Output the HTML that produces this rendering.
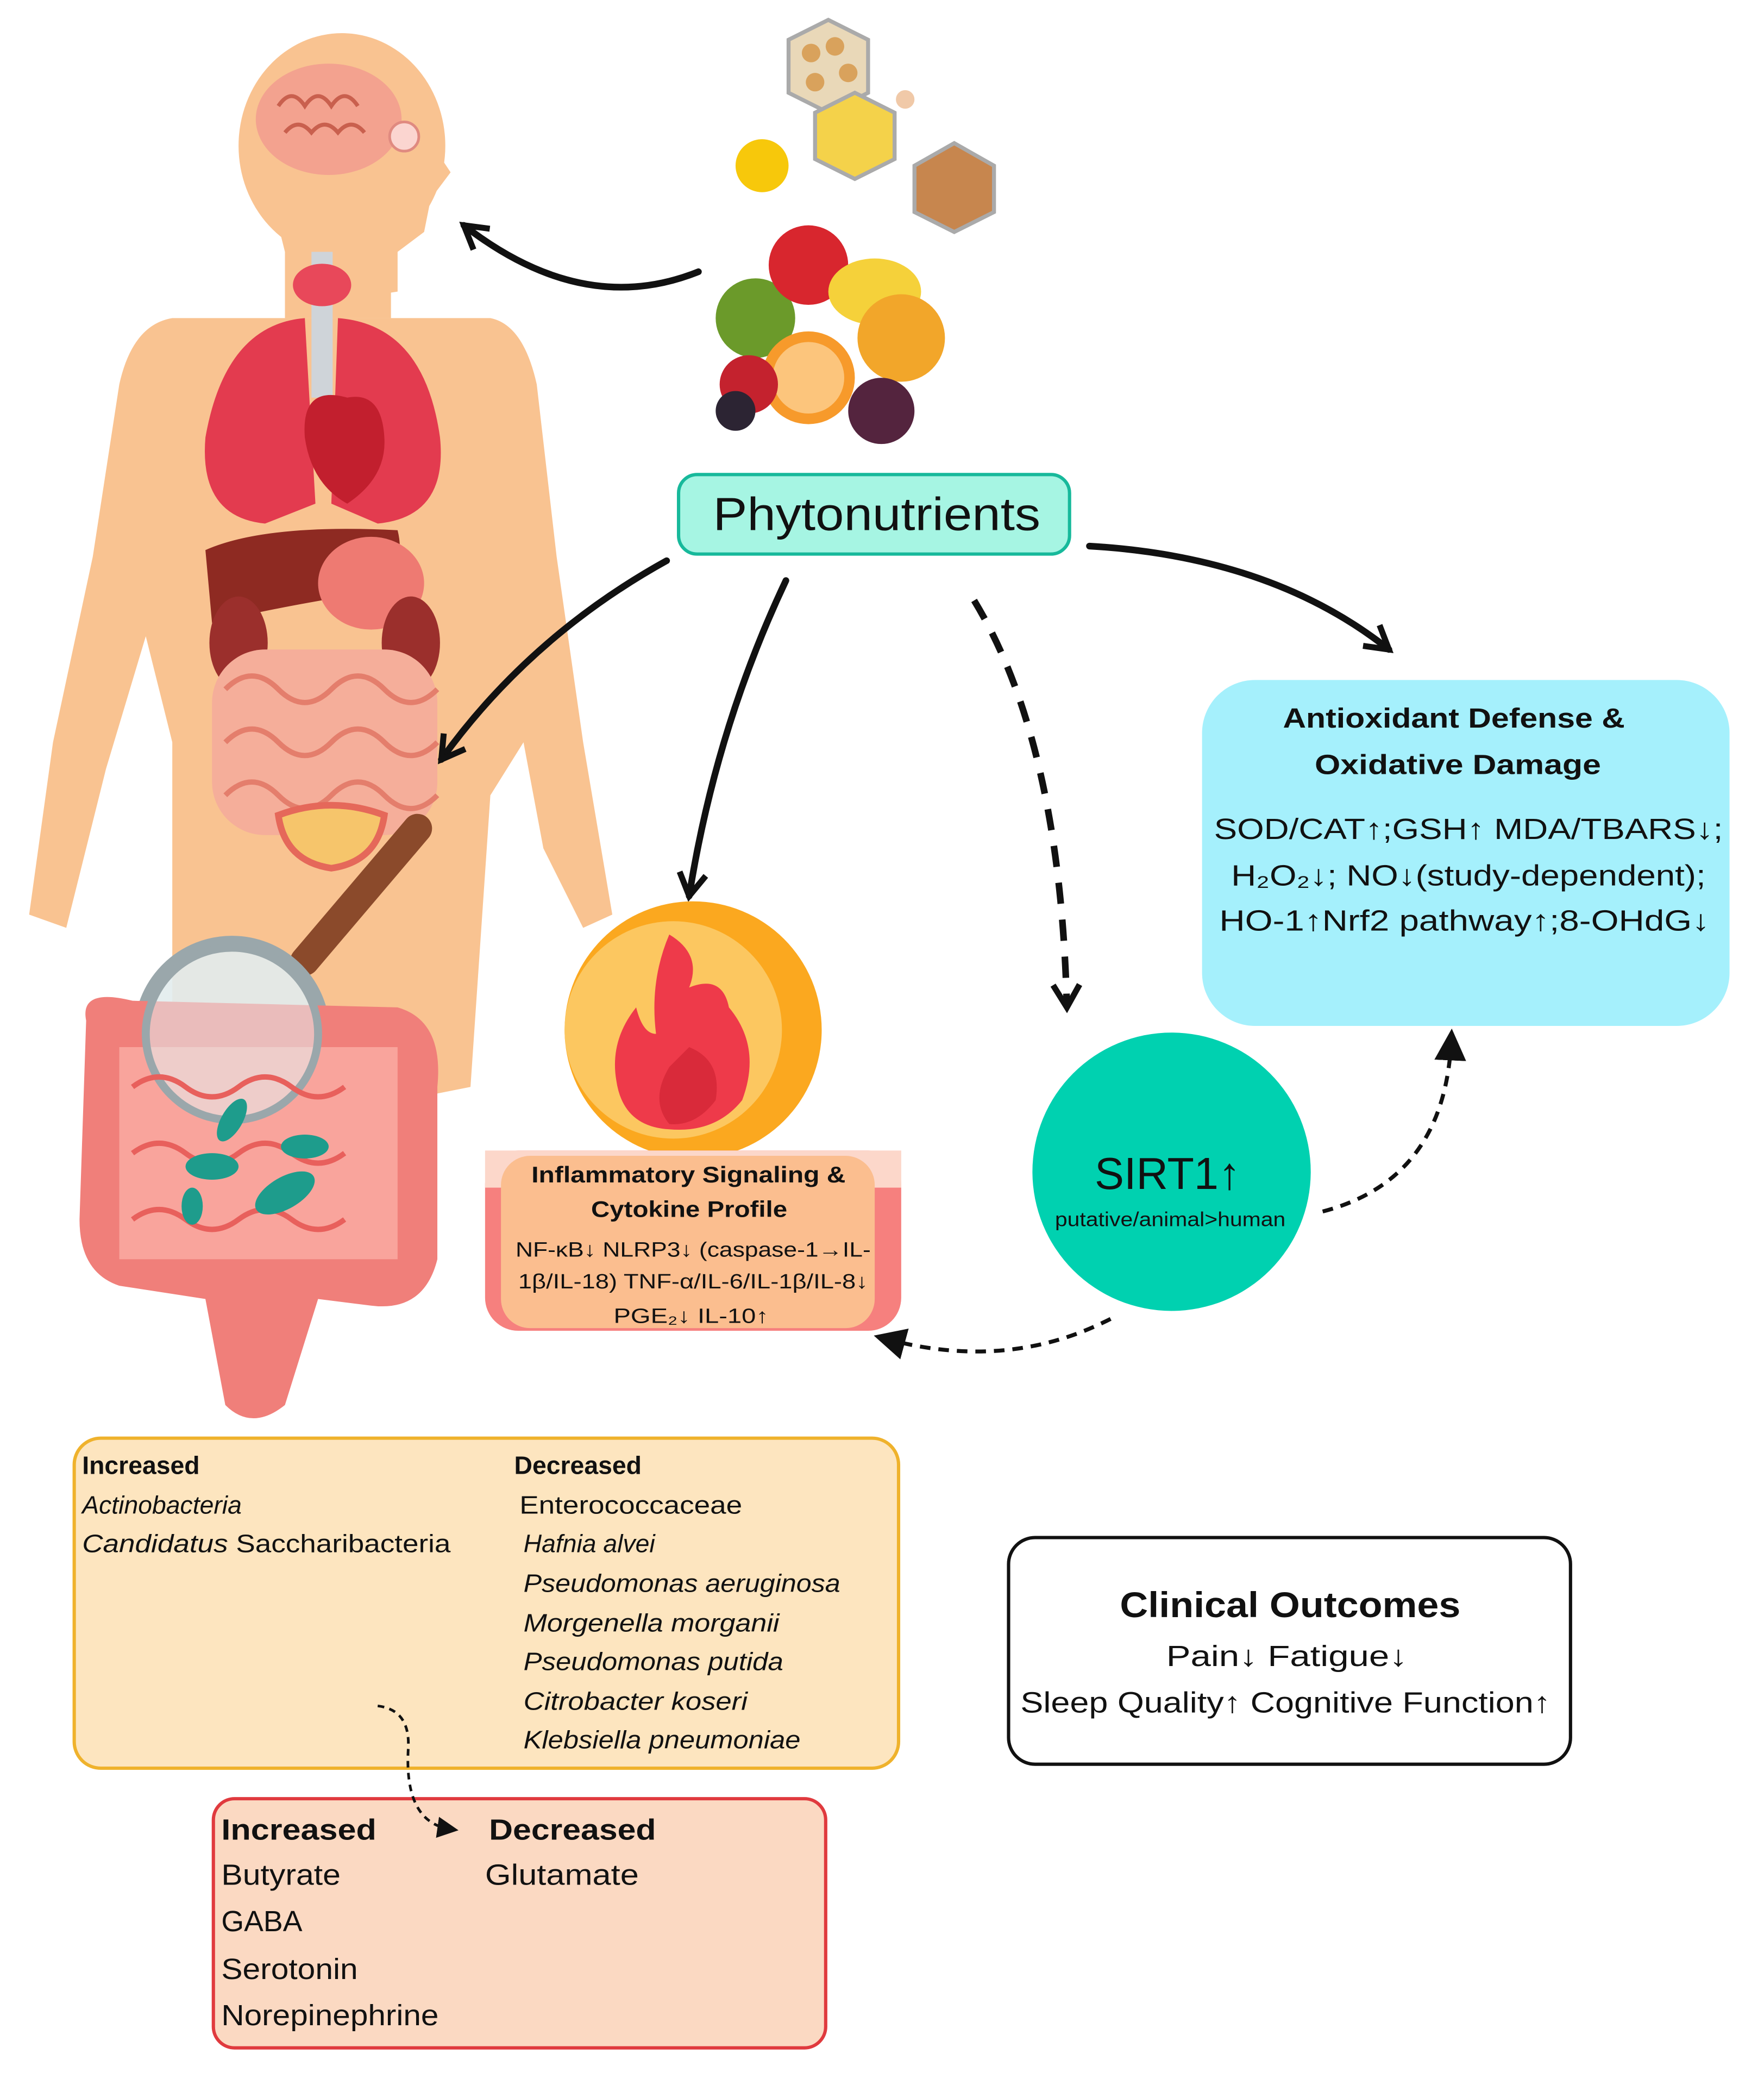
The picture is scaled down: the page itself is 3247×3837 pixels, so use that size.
<!DOCTYPE html>
<html><head><meta charset="utf-8">
<style>
html,body{margin:0;padding:0;background:#fff;}
svg{display:block;}
text{font-family:"Liberation Sans","DejaVu Sans",sans-serif;fill:#111;}
</style></head>
<body>
<svg width="3247" height="3837" viewBox="0 0 1331 1573" preserveAspectRatio="none" xmlns="http://www.w3.org/2000/svg">
<defs>
<marker id="ah" markerWidth="26" markerHeight="26" refX="20" refY="12" orient="auto" markerUnits="userSpaceOnUse">
<path d="M3,2 L20,12 L3,22" fill="none" stroke="#111" stroke-width="4.5"/>
</marker>
<marker id="ah2" markerWidth="8" markerHeight="8" refX="5" refY="4" orient="auto" markerUnits="strokeWidth">
<path d="M0,0 L8,4 L0,8 z" fill="#111"/>
</marker>
</defs>

<!-- Body silhouette -->
<g fill="#F9C391">
<ellipse cx="258" cy="110" rx="78" ry="85"/>
<path d="M320 100 L340 130 L325 150 L320 175 L300 190 L300 220 L235 230 L215 190 L200 130 Z"/>
<rect x="215" y="170" width="80" height="70"/>
<path d="M130 240 Q100 245 90 290 L70 420 L40 560 L22 690 L50 700 L80 580 L110 480 L130 560 L130 780 L330 825 L355 820 L370 600 L395 560 L410 640 L440 700 L462 690 L440 560 L420 420 L405 290 Q395 245 370 240 Z"/>
</g>
<ellipse cx="248" cy="90" rx="55" ry="42" fill="#F3A28F"/>
<path d="M210 80 q10 -15 20 0 q10 -15 20 0 q10 -15 20 0 M215 100 q10 -12 20 0 q10 -12 20 0 q10 -12 20 0" stroke="#C9604E" stroke-width="3" fill="none"/>
<circle cx="305" cy="103" r="11" fill="#fbd5d0" stroke="#e08a80" stroke-width="2"/>
<rect x="235" y="190" width="16" height="110" fill="#cfd4d9"/>
<ellipse cx="243" cy="215" rx="22" ry="16" fill="#E8485A"/>
<path d="M230 240 Q170 245 155 330 Q150 390 200 395 L238 380 Z" fill="#E33B4F"/>
<path d="M255 240 Q320 245 332 330 Q338 390 285 395 L250 380 Z" fill="#E33B4F"/>
<path d="M262 300 q-35 -10 -32 30 q5 35 32 50 q30 -20 28 -50 q-2 -35 -28 -30z" fill="#C21F2E"/>
<path d="M155 415 Q200 395 300 400 Q310 440 260 450 Q200 460 160 470 Z" fill="#8E2A22"/>
<ellipse cx="280" cy="440" rx="40" ry="35" fill="#EE7A72"/>
<ellipse cx="180" cy="485" rx="22" ry="35" fill="#9B2F2C"/>
<ellipse cx="310" cy="485" rx="22" ry="35" fill="#9B2F2C"/>
<rect x="160" y="490" width="170" height="140" rx="40" fill="#F5AE9A"/>
<path d="M170 520 q20 -20 40 0 t40 0 t40 0 t40 0 M170 560 q20 -20 40 0 t40 0 t40 0 t40 0 M170 600 q20 -20 40 0 t40 0 t40 0 t40 0" stroke="#E47E6C" stroke-width="4" fill="none"/>
<path d="M210 615 Q250 600 290 615 Q285 650 250 655 Q215 650 210 615Z" fill="#F6C56B" stroke="#E5685A" stroke-width="5"/>
<line x1="230" y1="725" x2="315" y2="625" stroke="#8B4A2B" stroke-width="22" stroke-linecap="round"/>
<circle cx="175" cy="780" r="70" fill="#dde8ea" fill-opacity="0.8" stroke="#9aa7ab" stroke-width="8"/>
<path d="M65 770 Q60 745 100 755 L300 760 Q335 770 330 820 L330 950 Q320 990 280 985 L240 980 L215 1060 Q190 1080 170 1060 L155 980 L90 970 Q60 960 60 920 Z" fill="#F07F7A"/>
<path d="M90 790 L300 790 L300 950 L90 950 Z" fill="#F9A49C"/>
<circle cx="175" cy="780" r="65" fill="#e6eef0" fill-opacity="0.55" stroke="#9aa7ab" stroke-width="6"/>
<path d="M100 820 q20 -15 40 0 t40 0 t40 0 t40 0 M100 870 q20 -15 40 0 t40 0 t40 0 t40 0 M100 920 q20 -15 40 0 t40 0 t40 0 t40 0" stroke="#E8605C" stroke-width="4" fill="none"/>
<g fill="#1E9C8C"><ellipse cx="160" cy="880" rx="20" ry="10"/><ellipse cx="215" cy="900" rx="25" ry="12" transform="rotate(-30 215 900)"/><ellipse cx="175" cy="845" rx="8" ry="18" transform="rotate(30 175 845)"/><ellipse cx="145" cy="910" rx="8" ry="14"/><ellipse cx="230" cy="865" rx="18" ry="9"/></g>

<!-- foods top -->
<polygon points="595,30 625,15 655,30 655,70 625,85 595,70" fill="#e9d8b8" stroke="#aaa" stroke-width="3"/>
<g fill="#D9A25C"><circle cx="612" cy="40" r="7"/><circle cx="630" cy="35" r="7"/><circle cx="640" cy="55" r="7"/><circle cx="615" cy="62" r="7"/></g>
<polygon points="615,85 645,70 675,85 675,120 645,135 615,120" fill="#F4D24A" stroke="#aaa" stroke-width="3"/>
<polygon points="690,125 720,108 750,125 750,160 720,175 690,160" fill="#C7864E" stroke="#aaa" stroke-width="3"/>
<circle cx="575" cy="125" r="20" fill="#F7C80B"/>
<circle cx="683" cy="75" r="7" fill="#F0C9A8"/>
<circle cx="570" cy="240" r="30" fill="#6B9A2A"/>
<circle cx="610" cy="200" r="30" fill="#D8262E"/>
<ellipse cx="660" cy="220" rx="35" ry="25" fill="#F5D13A"/>
<circle cx="680" cy="255" r="33" fill="#F2A62A"/>
<circle cx="610" cy="285" r="35" fill="#F79A2B"/>
<circle cx="610" cy="285" r="27" fill="#FCC57C"/>
<circle cx="565" cy="290" r="22" fill="#C4222E"/>
<circle cx="665" cy="310" r="25" fill="#54243E"/>
<circle cx="555" cy="310" r="15" fill="#2c2433"/>

<!-- Phytonutrients box -->
<rect x="512" y="358" width="295" height="60" rx="14" fill="#A6F5E3" stroke="#17B99B" stroke-width="2.5"/>
<text x="538" y="400" font-size="35" textLength="247" lengthAdjust="spacingAndGlyphs">Phytonutrients</text>

<!-- arrows -->
<g fill="none" stroke="#111" stroke-width="5" stroke-linecap="round">
<path d="M527 205 Q440 240 350 170" marker-end="url(#ah)"/>
<path d="M503 423 Q400 480 333 573" marker-end="url(#ah)"/>
<path d="M593 438 Q540 550 520 676" marker-end="url(#ah)"/>
<path d="M822 412 Q960 420 1048 490" marker-end="url(#ah)"/>
</g>
<path d="M735 453 Q800 560 805 760" fill="none" stroke="#111" stroke-width="5" stroke-dasharray="16,12" marker-end="url(#ah)"/>
<path d="M998 914 Q1090 890 1095 785" fill="none" stroke="#111" stroke-width="3" stroke-dasharray="8,6" marker-end="url(#ah2)"/>
<path d="M838 995 Q760 1035 668 1010" fill="none" stroke="#111" stroke-width="3" stroke-dasharray="8,6" marker-end="url(#ah2)"/>

<!-- Antioxidant box -->
<rect x="907" y="513" width="398" height="261" rx="40" fill="#A5F0FC"/>
<text x="968" y="549" font-size="21" font-weight="bold" textLength="258" lengthAdjust="spacingAndGlyphs">Antioxidant Defense &amp;</text>
<text x="992" y="584" font-size="21" font-weight="bold" textLength="216" lengthAdjust="spacingAndGlyphs">Oxidative Damage</text>
<text x="916" y="633" font-size="22" textLength="384" lengthAdjust="spacingAndGlyphs">SOD/CAT↑;GSH↑ MDA/TBARS↓;</text>
<text x="929" y="668" font-size="22" textLength="358" lengthAdjust="spacingAndGlyphs">H₂O₂↓; NO↓(study-dependent);</text>
<text x="920" y="702" font-size="22" textLength="370" lengthAdjust="spacingAndGlyphs">HO-1↑Nrf2 pathway↑;8-OHdG↓</text>

<!-- Fire circle -->
<circle cx="523" cy="777" r="97" fill="#FBA81F"/>
<circle cx="508" cy="777" r="82" fill="#FCC760"/>
<path d="M505 705 Q530 720 520 745 Q545 735 550 760 Q575 790 560 830 Q540 855 505 852 Q470 850 465 815 Q460 785 480 760 Q485 780 495 780 Q490 740 505 705Z" fill="#EE3A4A"/>
<path d="M520 790 Q545 800 540 830 Q525 850 505 848 Q490 830 505 805Z" fill="#D92A3A"/>

<!-- Inflammatory box -->
<rect x="366" y="868" width="314" height="136" rx="25" fill="#F6807E"/>
<rect x="366" y="868" width="314" height="28" fill="#FCD7CA"/>
<rect x="378" y="872" width="282" height="130" rx="22" fill="#FBBE8F"/>
<text x="401" y="892" font-size="17" font-weight="bold" textLength="237" lengthAdjust="spacingAndGlyphs">Inflammatory Signaling &amp;</text>
<text x="446" y="918" font-size="17" font-weight="bold" textLength="148" lengthAdjust="spacingAndGlyphs">Cytokine Profile</text>
<text x="389" y="948" font-size="15.5" textLength="268" lengthAdjust="spacingAndGlyphs">NF-κB↓ NLRP3↓ (caspase-1→IL-</text>
<text x="391" y="972" font-size="15.5" textLength="264" lengthAdjust="spacingAndGlyphs">1β/IL-18) TNF-α/IL-6/IL-1β/IL-8↓</text>
<text x="463" y="998" font-size="15.5" textLength="117" lengthAdjust="spacingAndGlyphs">PGE₂↓ IL-10↑</text>

<!-- SIRT1 -->
<circle cx="884" cy="884" r="105" fill="#00D1B0"/>
<text x="826" y="897" font-size="34" textLength="110" lengthAdjust="spacingAndGlyphs">SIRT1↑</text>
<text x="796" y="925" font-size="15" textLength="174" lengthAdjust="spacingAndGlyphs">putative/animal&gt;human</text>

<!-- Microbiome box -->
<rect x="56" y="1085" width="622" height="249" rx="20" fill="#FDE5BF" stroke="#EFB22C" stroke-width="2.5"/>
<text x="62" y="1112" font-size="19" font-weight="bold">Increased</text>
<text x="62" y="1142" font-size="19" font-style="italic">Actinobacteria</text>
<text x="62" y="1171" font-size="19" textLength="278" lengthAdjust="spacingAndGlyphs"><tspan font-style="italic">Candidatus</tspan> Saccharibacteria</text>
<text x="388" y="1112" font-size="19" font-weight="bold">Decreased</text>
<g font-size="19" font-style="italic">
<text x="392" y="1142" font-style="normal" textLength="168" lengthAdjust="spacingAndGlyphs">Enterococcaceae</text>
<text x="395" y="1171">Hafnia alvei</text>
<text x="395" y="1201" textLength="239" lengthAdjust="spacingAndGlyphs">Pseudomonas aeruginosa</text>
<text x="395" y="1231" textLength="193" lengthAdjust="spacingAndGlyphs">Morgenella morganii</text>
<text x="395" y="1260" textLength="196" lengthAdjust="spacingAndGlyphs">Pseudomonas putida</text>
<text x="395" y="1290" textLength="169" lengthAdjust="spacingAndGlyphs">Citrobacter koseri</text>
<text x="395" y="1319" textLength="209" lengthAdjust="spacingAndGlyphs">Klebsiella pneumoniae</text>
</g>

<!-- Metabolites box -->
<rect x="161" y="1357" width="462" height="188" rx="16" fill="#FBD9C2" stroke="#E03A3E" stroke-width="2.5"/>
<text x="167" y="1388" font-size="22" font-weight="bold" textLength="117" lengthAdjust="spacingAndGlyphs">Increased</text>
<text x="369" y="1388" font-size="22" font-weight="bold" textLength="126" lengthAdjust="spacingAndGlyphs">Decreased</text>
<g font-size="22">
<text x="167" y="1422" textLength="90" lengthAdjust="spacingAndGlyphs">Butyrate</text>
<text x="366" y="1422" textLength="116" lengthAdjust="spacingAndGlyphs">Glutamate</text>
<text x="167" y="1457">GABA</text>
<text x="167" y="1493" textLength="103" lengthAdjust="spacingAndGlyphs">Serotonin</text>
<text x="167" y="1528" textLength="164" lengthAdjust="spacingAndGlyphs">Norepinephrine</text>
</g>

<!-- dashed connector between boxes (on top) -->
<path d="M285 1287 Q310 1290 308 1320 Q305 1375 340 1380" fill="none" stroke="#111" stroke-width="2" stroke-dasharray="5,4" marker-end="url(#ah2)"/>

<!-- Clinical -->
<rect x="761" y="1160" width="424" height="171" rx="20" fill="#fff" stroke="#111" stroke-width="2.5"/>
<text x="845" y="1220" font-size="27" font-weight="bold" textLength="257" lengthAdjust="spacingAndGlyphs">Clinical Outcomes</text>
<text x="880" y="1257" font-size="22" textLength="182" lengthAdjust="spacingAndGlyphs">Pain↓ Fatigue↓</text>
<text x="770" y="1292" font-size="22" textLength="400" lengthAdjust="spacingAndGlyphs">Sleep Quality↑ Cognitive Function↑</text>
</svg>
</body></html>
